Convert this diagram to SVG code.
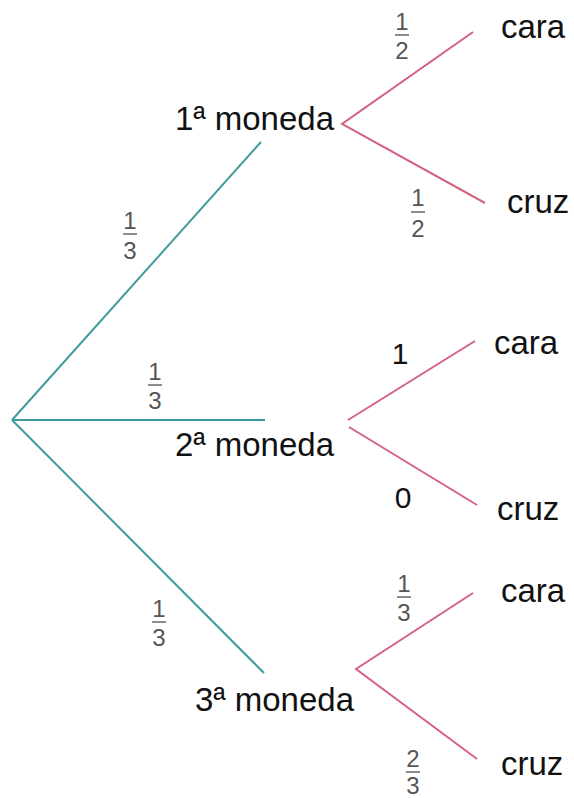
<svg xmlns="http://www.w3.org/2000/svg" width="574" height="798" viewBox="0 0 574 798">
<style>
.t{font-family:"Liberation Sans",Arial,sans-serif;font-size:33px;fill:#111}
.f{font-family:"Liberation Sans",Arial,sans-serif;font-size:24px;fill:#555;text-anchor:middle}
.bar{stroke:#666;stroke-width:1.5}
.teal{stroke:#3f9c9c;stroke-width:2;fill:none}
.pink{stroke:#d4637f;stroke-width:2;fill:none}
</style>
<rect width="574" height="798" fill="#fff"/>
<g id="connectors">
<line class="teal" x1="12" y1="420" x2="261" y2="142"/>
<line class="teal" x1="12" y1="420" x2="265" y2="420"/>
<line class="teal" x1="12" y1="420" x2="264" y2="673"/>
<polyline class="pink" points="473,32 342,124 485,203"/>
<line class="pink" x1="348" y1="420" x2="475" y2="341"/>
<line class="pink" x1="349" y1="427" x2="477" y2="505"/>
<polyline class="pink" points="473,593 356,669 477,759"/>
</g>
<g id="labels">
<g><text class="f" x="130" y="229">1</text><line class="bar" x1="123" y1="234" x2="137" y2="234"/><text class="f" x="130" y="259">3</text></g>
<g><text class="f" x="155" y="380">1</text><line class="bar" x1="148" y1="385" x2="162" y2="385"/><text class="f" x="155" y="409">3</text></g>
<g><text class="f" x="159" y="617">1</text><line class="bar" x1="152" y1="622" x2="166" y2="622"/><text class="f" x="159" y="646">3</text></g>
<g><text class="f" x="402" y="30">1</text><line class="bar" x1="395" y1="35" x2="409" y2="35"/><text class="f" x="402" y="59">2</text></g>
<g><text class="f" x="418" y="206">1</text><line class="bar" x1="411" y1="212" x2="425" y2="212"/><text class="f" x="418" y="237">2</text></g>
<text class="t" x="400" y="364" text-anchor="middle" style="font-size:30px">1</text>
<text class="t" x="403" y="508" text-anchor="middle" style="font-size:30px">0</text>
<g><text class="f" x="404" y="592">1</text><line class="bar" x1="397" y1="597" x2="411" y2="597"/><text class="f" x="404" y="621">3</text></g>
<g><text class="f" x="413" y="767">2</text><line class="bar" x1="406" y1="772" x2="420" y2="772"/><text class="f" x="413" y="794">3</text></g>
</g>
<g id="coin1"><text class="t" x="175" y="130">1ª moneda</text></g>
<g id="coin2"><text class="t" x="175" y="456">2ª moneda</text></g>
<g id="coin3"><text class="t" x="195" y="711">3ª moneda</text></g>
<g id="c1cara"><text class="t" x="501" y="38">cara</text></g>
<g id="c1cruz"><text class="t" x="507" y="213">cruz</text></g>
<g id="c2cara"><text class="t" x="494" y="354">cara</text></g>
<g id="c2cruz"><text class="t" x="497" y="520">cruz</text></g>
<g id="c3cara"><text class="t" x="501" y="602">cara</text></g>
<g id="c3cruz"><text class="t" x="501" y="775">cruz</text></g>
</svg>
